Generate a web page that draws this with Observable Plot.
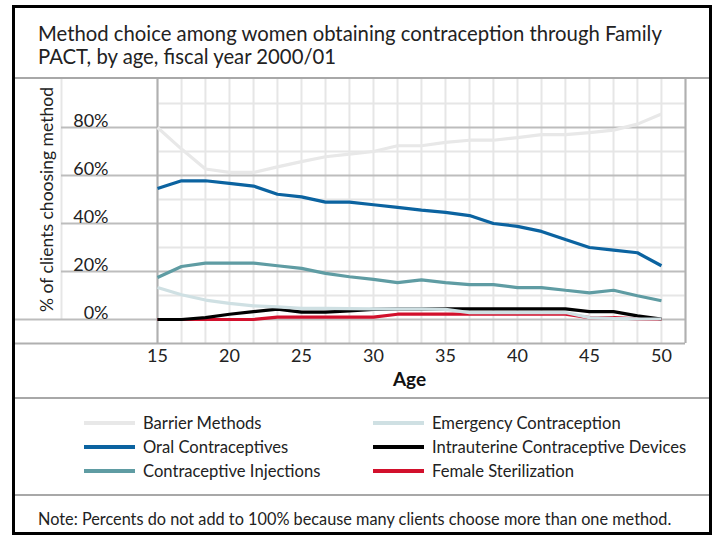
<!DOCTYPE html>
<html>
<head>
<meta charset="utf-8">
<script src="https://cdn.jsdelivr.net/npm/d3@7"></script>
<script src="https://cdn.jsdelivr.net/npm/@observablehq/plot@0.6"></script>
<style>
  body { margin: 0; background: #fff; font-family: Lato, "Open Sans", sans-serif; color: #222; }
  #wrap { position: relative; width: 712px; height: 535px; overflow: hidden; }
  .abs { position: absolute; }
  #frame { left: 12px; top: 5px; width: 694px; height: 524px; border: 3px solid #000; }
  .sep { left: 15px; width: 694px; height: 2px; background: #a8a8a8; }
  #title { left: 38px; top: 22px; font-size: 20.3px; line-height: 23px; color: #222; }
  #chart { left: 0; top: 78px; }
  .leg { display: flex; align-items: center; font-size: 16.6px; height: 24px; }
  .sw { width: 51px; height: 4px; margin-right: 8px; }
  #note { left: 38px; top: 509px; font-size: 16.3px; }
</style>
</head>
<body>
<div id="wrap">
  <div id="chart" class="abs"></div>
  <div id="frame" class="abs"></div>
  <div id="title" class="abs">Method choice among women obtaining contraception through Family<br>PACT, by age, fiscal year 2000/01</div>
  <div class="abs sep" style="top:77px"></div>
  <div class="abs sep" style="top:397px"></div>
  <div class="abs sep" style="top:494px"></div>
  <div id="legend"></div>
  <div id="note" class="abs">Note: Percents do not add to 100% because many clients choose more than one method.</div>
</div>
<script>
// ---- data ----
const ages = [15, 16.67, 18.33, 20, 21.67, 23.33, 25, 26.67, 28.33, 30, 31.67, 33.33, 35, 36.67, 38.33, 40, 41.67, 43.33, 45, 46.67, 48.33, 50];
const barrier     = [80, 71, 62.7, 61.3, 61.3, 63.6, 65.8, 67.8, 68.9, 70, 72.4, 72.4, 73.8, 74.7, 74.7, 75.8, 77, 77, 77.9, 78.9, 81.4, 85.6];
const oral        = [54.6, 57.8, 57.8, 56.7, 55.6, 52.2, 51.1, 48.9, 48.9, 47.8, 46.7, 45.6, 44.6, 43.3, 40, 38.8, 36.7, 33.3, 30, 28.9, 27.8, 22.4];
const injections  = [17.5, 22.1, 23.5, 23.5, 23.5, 22.4, 21.3, 19.2, 17.8, 16.7, 15.4, 16.5, 15.4, 14.5, 14.5, 13.3, 13.3, 12.2, 11.1, 12.2, 9.9, 7.8];
const emergency   = [13.3, 10.3, 8.1, 6.7, 5.7, 5.3, 4.6, 4.6, 4.5, 4.4, 4.4, 4.4, 4.2, 2.9, 2.9, 2.9, 2.9, 2.9, 0.8, 0.5, 0.3, 0.2];
const iud         = [0, 0, 0.8, 2.2, 3.3, 4.3, 3.1, 3.1, 3.6, 4.2, 4.4, 4.4, 4.4, 4.4, 4.4, 4.4, 4.4, 4.4, 3.3, 3.3, 1.5, 0.2];
const sterilization = [0, 0, 0, 0, 0, 1, 1, 1, 1, 1, 2.2, 2.2, 2.2, 2.2, 2.2, 2.2, 2.2, 2.2, 0.8, 0.8, 0.3, 0];

const seriesNames  = ["Barrier Methods", "Oral Contraceptives", "Contraceptive Injections", "Female Sterilization", "Intrauterine Contraceptive Devices", "Emergency Contraception"];
const seriesValues = [barrier, oral, injections, sterilization, iud, emergency];
const seriesColors = ["#e8e8e8", "#0b63a0", "#5f9ca3", "#d2102c", "#000000", "#cfe0e3"];
const legendOrder  = ["Barrier Methods", "Emergency Contraception", "Oral Contraceptives", "Intrauterine Contraceptive Devices", "Contraceptive Injections", "Female Sterilization"];

const xTicks = [15, 20, 25, 30, 35, 40, 45, 50];
const yTicks = [0, 20, 40, 60, 80];
const yMinor = [10, 30, 50, 70, 90];
const gridAges = ages.concat([51.67]);
const xDomain = [15, 51.67];
const yDomain = [-10, 100];
const yLabel = "% of clients choosing method";
const xLabel = "Age";

// ---- build ----
const rows = [];
seriesNames.forEach((name, s) => {
  ages.forEach((a, i) => rows.push({age: a, value: seriesValues[s][i], series: name}));
});

const chart = Plot.plot({
  width: 712,
  height: 320,
  marginLeft: 157,
  marginRight: 27,
  marginTop: 1,
  marginBottom: 55,
  x: {domain: xDomain, axis: null},
  y: {domain: yDomain, axis: null},
  color: {domain: seriesNames, range: seriesColors},
  style: {fontFamily: "Lato, 'Open Sans', sans-serif", color: "#222", background: "transparent"},
  marks: [
    Plot.ruleX(gridAges, {stroke: "#e6e6e6", strokeWidth: 2}),
    Plot.ruleY(yMinor, {stroke: "#e6e6e6", strokeWidth: 2}),
    Plot.ruleX([15], {y1: 0, y2: 100, dx: -96, stroke: "#e6e6e6", strokeWidth: 2}),
    Plot.ruleY(yTicks.filter(d => d > 0), {stroke: "#bdbdbd", strokeWidth: 2, insetLeft: -96}),
    Plot.ruleY([0], {stroke: "#bdbdbd", strokeWidth: 2, insetLeft: -143}),
    Plot.ruleY([-10], {stroke: "#b0b0b0", strokeWidth: 2, insetLeft: -143}),
    Plot.ruleX(xDomain, {stroke: "#b0b0b0", strokeWidth: 2}),
    Plot.text(yTicks, {y: d => d, text: d => d + "%", frameAnchor: "left", textAnchor: "end", lineAnchor: "bottom", dx: -49, dy: -1, fontSize: 18, fill: "#222"}),
    Plot.text(xTicks, {x: d => d, text: d => String(d), frameAnchor: "bottom", lineAnchor: "top", dy: 6, fontSize: 18, fill: "#222"}),
    Plot.text([xLabel], {frameAnchor: "bottom", lineAnchor: "middle", dy: 36, dx: -12, fontSize: 19, fontWeight: "bold", fill: "#111"}),
    Plot.text([yLabel], {frameAnchor: "left", textAnchor: "middle", lineAnchor: "middle", rotate: -90, dx: -110, dy: -12, fontSize: 17.5, fill: "#222"}),
    Plot.line(rows, {x: "age", y: "value", z: "series", stroke: "series", strokeWidth: 3.2, strokeLinejoin: "miter", strokeLinecap: "butt"})
  ]
});
document.getElementById("chart").appendChild(chart);

// legend
const legend = document.getElementById("legend");
legendOrder.forEach((name, k) => {
  const col = k % 2, row = Math.floor(k / 2);
  const el = document.createElement("div");
  el.className = "abs leg";
  el.style.left = (col === 0 ? 84 : 373) + "px";
  el.style.top = (411 + row * 24) + "px";
  const sw = document.createElement("div");
  sw.className = "sw";
  sw.style.background = seriesColors[seriesNames.indexOf(name)];
  const tx = document.createElement("span");
  tx.textContent = name;
  el.appendChild(sw); el.appendChild(tx);
  legend.appendChild(el);
});
</script>
</body>
</html>
